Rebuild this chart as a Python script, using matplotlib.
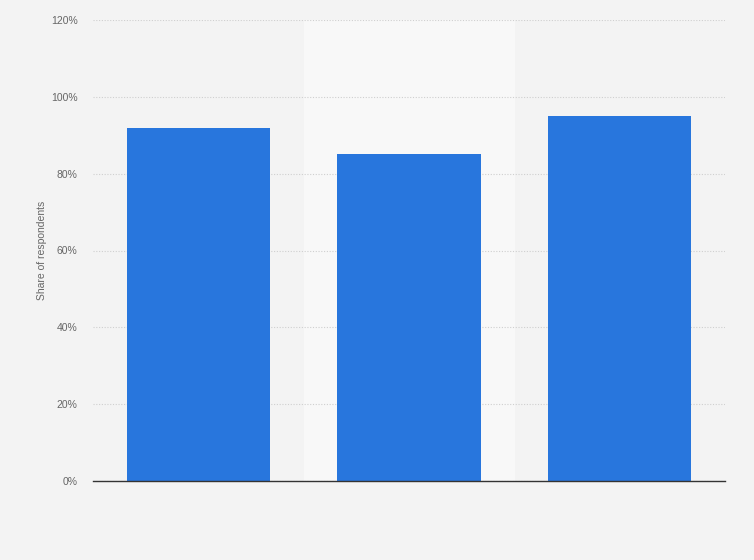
import matplotlib
matplotlib.use("Agg")
import matplotlib.pyplot as plt
import numpy as np

plt.rcParams["font.family"] = ["Liberation Sans", "DejaVu Sans"]

categories = ["", "", ""]
shares = [92, 85, 95]
yticks = [0, 20, 40, 60, 80, 100, 120]

BG = "#f3f3f3"
BAR = "#2876dd"

fig = plt.figure(figsize=(7.54, 5.6), dpi=100, facecolor=BG)
ax = fig.add_axes([93 / 754, 79 / 560, 632 / 754, 461 / 560])
ax.set_facecolor(BG)

x = np.arange(len(shares))
# lighter band behind the middle category
ax.axvspan(0.5, 1.5, color="#f8f8f8", zorder=0)
ax.bar(x, shares, width=0.68, color=BAR, zorder=3)

ax.set_xlim(-0.5, len(shares) - 0.5)
ax.set_ylim(0, 120)
ax.set_yticks(yticks)
ax.set_yticklabels([f"{v}%" for v in yticks], fontsize=7.5, color="#666666")
ax.set_xticks([])
ax.tick_params(axis="y", length=0, pad=11)
ax.grid(axis="y", color="#cfcfcf", ls=(0, (1, 1.5)), lw=0.8, zorder=1)
for s in ["top", "right", "left"]:
    ax.spines[s].set_visible(False)
ax.spines["bottom"].set_color("#333333")
ax.spines["bottom"].set_linewidth(1.0)
ax.spines["bottom"].set_zorder(4)

ax.set_ylabel("Share of respondents", fontsize=7.5, color="#666666", labelpad=3)

fig.savefig("out.png", dpi=100, facecolor=BG)
